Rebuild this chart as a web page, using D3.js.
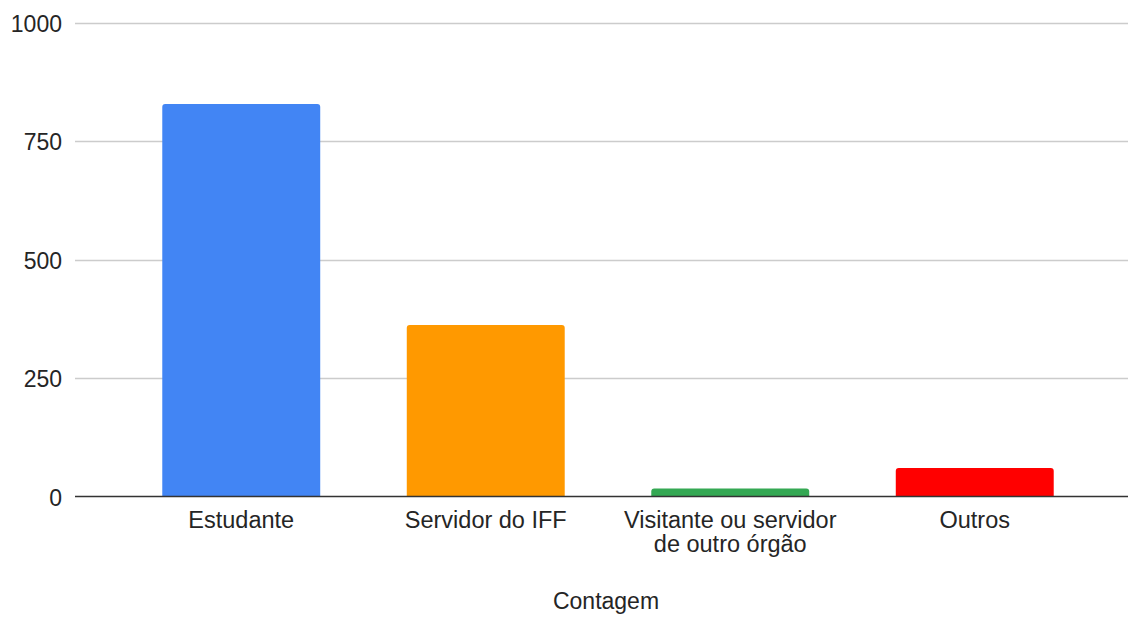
<!DOCTYPE html>
<html><head><meta charset="utf-8">
<script src="https://cdn.jsdelivr.net/npm/d3@7"></script>
<style>body{margin:0;background:#fff}svg{display:block}text{font-family:"Liberation Sans",Arial,sans-serif;fill:#252525}</style>
</head><body>
<svg id="c" width="1129" height="619"></svg>
<script>
const categories = [["Estudante"],["Servidor do IFF"],["Visitante ou servidor","de outro órgão"],["Outros"]];
const values = [828, 362, 17, 60];
const colors = ["#4285F4","#FF9900","#34A853","#FF0000"];
const yTicks = [0,250,500,750,1000];
const xTitle = "Contagem";

const svg = d3.select("#c");
const gridL = 75, gridR = 1128;
const y = d3.scaleLinear().domain([0,1000]).range([496.5,22.5]);
const x = d3.scaleBand().domain(d3.range(categories.length)).range([119,1097]).paddingInner(0.354).paddingOuter(0.177);

// gridlines
svg.append("g").selectAll("line").data(yTicks.filter(d=>d!==0)).join("line")
  .attr("x1",gridL).attr("x2",gridR).attr("y1",d=>Math.round(y(d))+0.5).attr("y2",d=>Math.round(y(d))+0.5)
  .attr("stroke","#cccccc").attr("stroke-width",1.5);
// y labels
svg.append("g").selectAll("text").data(yTicks).join("text")
  .attr("x",62).attr("y",d=>y(d)+1).attr("text-anchor","end").attr("dominant-baseline","central")
  .style("font-size","23px").text(d=>d);

// bars with rounded top corners
const r = 3;
svg.append("g").selectAll("path").data(values).join("path")
  .attr("fill",(d,i)=>colors[i])
  .attr("d",(d,i)=>{
    const x0 = x(i), w = x.bandwidth(), t = y(d), b = y(0);
    const rr = Math.min(r,(b-t)/2);
    return `M${x0},${b}V${t+rr}Q${x0},${t} ${x0+rr},${t}H${x0+w-rr}Q${x0+w},${t} ${x0+w},${t+rr}V${b}Z`;
  });

// baseline
svg.append("line").attr("x1",gridL).attr("x2",gridR).attr("y1",y(0)).attr("y2",y(0))
  .attr("stroke","#333").attr("stroke-width",1.5);

// x labels (one text per line)
categories.forEach((lines,i)=>{
  lines.forEach((ln,j)=>{
    svg.append("text").attr("text-anchor","middle").style("font-size","23.5px")
      .attr("x",x(i)+x.bandwidth()/2).attr("y",528+j*24).text(ln);
  });
});

svg.append("text").attr("x",606).attr("y",609).attr("text-anchor","middle")
  .style("font-size","23px").text(xTitle);
</script>
</body></html>
